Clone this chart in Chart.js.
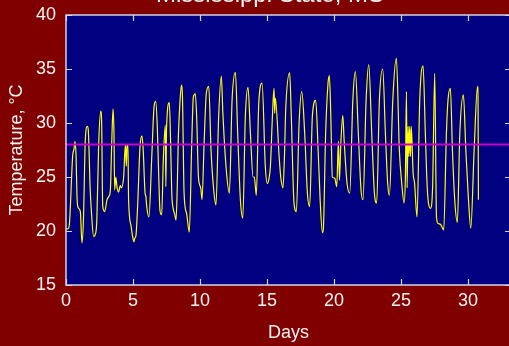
<!DOCTYPE html>
<html>
<head>
<meta charset="utf-8">
<script src="https://cdn.jsdelivr.net/npm/chart.js@4.4.1/dist/chart.umd.min.js"></script>
<style>
    html, body { margin: 0; padding: 0; background: #800000; overflow: hidden; }
    #wrap { width: 509px; height: 346px; overflow: hidden; position: relative; }
    canvas { position: absolute; left: 0; top: 0; }
</style>
</head>
<body>
<div id="wrap"><canvas id="tempChart" width="511" height="346"></canvas></div>
<script>
/* global Chart */

// Hourly-ish air temperature readings (days since start, deg C)
const days = [
    0.00, 0.15, 0.25, 0.50, 0.60, 0.67, 0.75, 0.82, 0.90, 1.07, 1.19, 1.30, 1.44, 1.59, 1.66, 1.80, 1.89,
    2.06, 2.19, 2.30, 2.44, 2.59, 2.66, 2.74, 2.89, 3.06, 3.20, 3.31, 3.42, 3.51, 3.58, 3.63, 3.72, 3.80,
    3.92, 4.05, 4.13, 4.30, 4.43, 4.50, 4.55, 4.62, 4.67, 4.85, 4.93, 5.07, 5.12, 5.22, 5.35, 5.52, 5.67,
    5.76, 5.90, 5.96, 6.02, 6.19, 6.39, 6.57, 6.69, 6.81, 6.92, 7.01, 7.14, 7.26, 7.41, 7.45, 7.50, 7.71,
    7.80, 7.89, 8.01, 8.10, 8.21, 8.30, 8.38, 8.51, 8.61, 8.68, 8.81, 9.00, 9.20, 9.38, 9.50, 9.65, 9.75,
    9.88, 10.05, 10.15, 10.30, 10.47, 10.65, 10.82, 11.02, 11.19, 11.39, 11.59, 11.70, 11.96, 12.19, 12.39,
    12.64, 12.81, 13.01, 13.19, 13.38, 13.58, 13.76, 13.96, 14.05, 14.20, 14.38, 14.63, 14.87, 15.02, 15.12,
    15.25, 15.40, 15.52, 15.57, 15.62, 15.90, 16.02, 16.19, 16.30, 16.39, 16.69, 16.80, 17.01, 17.19, 17.39,
    17.59, 17.81, 18.01, 18.18, 18.38, 18.63, 18.81, 18.96, 19.13, 19.20, 19.37, 19.55, 19.65, 19.75, 19.87,
    20.05, 20.20, 20.32, 20.40, 20.50, 20.65, 20.75, 20.97, 21.17, 21.40, 21.59, 21.81, 22.01, 22.16, 22.39,
    22.59, 22.81, 23.01, 23.18, 23.38, 23.63, 23.83, 24.00, 24.13, 24.38, 24.65, 24.87, 25.05, 25.22, 25.32,
    25.40, 25.45, 25.52, 25.58, 25.64, 25.70, 25.76, 25.90, 26.00, 26.19, 26.39, 26.64, 26.81, 26.96, 27.19,
    27.35, 27.51, 27.64, 27.76, 27.95, 28.18, 28.38, 28.50, 28.68, 28.83, 29.00, 29.20, 29.38, 29.65, 29.83,
    30.00, 30.20, 30.45, 30.70, 30.74, 30.77
];
const temps = [
    20.2, 20.2, 20.6, 27.0, 27.6, 28.3, 27.0, 23.2, 22.2, 21.8, 18.9, 21.0, 28.4, 29.7, 29.4, 24.0, 21.9,
    19.5, 19.7, 21.0, 28.1, 31.1, 30.0, 22.3, 21.8, 22.9, 23.2, 23.8, 28.5, 31.3, 29.0, 23.8, 25.0, 24.1,
    23.6, 24.2, 24.0, 25.0, 28.0, 26.0, 28.0, 28.0, 22.9, 20.5, 19.8, 19.0, 19.3, 19.6, 22.5, 27.8, 28.8,
    27.5, 23.5, 23.2, 22.3, 21.3, 26.6, 31.5, 32.0, 29.7, 25.0, 21.9, 21.5, 26.6, 29.8, 24.1, 29.5, 31.9,
    28.5, 23.5, 22.0, 21.6, 21.0, 24.0, 28.6, 32.1, 33.5, 32.8, 23.5, 21.6, 19.9, 28.1, 32.4, 32.7, 30.5,
    25.0, 24.0, 22.9, 28.0, 32.75, 33.4, 27.5, 23.8, 22.4, 30.6, 34.35, 31.0, 25.65, 23.5, 32.1,
    34.7, 29.0, 22.9, 21.2, 30.6, 33.3, 29.0, 25.0, 25.0, 23.3, 31.8, 33.7, 26.0, 24.4, 24.7,
    26.0, 30.6, 33.2, 30.9, 32.3, 26.9, 25.0, 24.0, 27.0, 31.2, 34.65, 31.0, 22.6, 21.8, 30.0,
    32.9, 29.0, 23.5, 22.25, 30.6, 32.1, 27.5, 22.9, 19.85, 20.2, 29.0, 33.7, 34.4, 31.0, 25.0,
    24.9, 24.1, 28.3, 24.7, 28.0, 30.7, 28.4, 24.4, 23.5, 32.1, 34.75, 29.0, 23.8, 22.9, 32.1,
    35.4, 29.0, 23.5, 22.6, 32.1, 35.0, 29.0, 24.4, 23.3, 32.1, 36.0, 27.5, 24.4, 22.6, 25.0,
    32.9, 24.0, 29.7, 26.9, 29.7, 26.9, 29.7, 25.3, 24.5, 21.3, 32.1, 35.3, 29.0, 23.8, 22.1,
    24.0, 34.6, 21.3, 20.7, 20.6, 20.1, 29.0, 32.1, 33.2, 27.5, 22.9, 20.8, 29.0, 32.6, 27.5,
    23.5, 20.25, 27.5, 33.4, 32.5, 22.9
];

const refLevel = 28;
const xTicks = [0, 5, 10, 15, 20, 25, 30];
const yTicks = [15, 20, 25, 30, 35, 40];

const xMin = 0;
const xMax = 33.2;
const yMin = 15;
const yMax = 40;

const textColor = '#f2f2f2';
const frameColor = '#d4d4e4';
const fontFamily = '"Liberation Sans", Arial, sans-serif';

// navy plot background, frame and inward ticks on all four sides
const frame = {
    id: 'frame',
    beforeDatasetsDraw(chart) {
        const { ctx, chartArea: a } = chart;
        ctx.save();
        ctx.fillStyle = '#000080';
        ctx.fillRect(a.left, a.top, a.right - a.left, a.bottom - a.top);
        ctx.restore();
    },
    afterDraw(chart) {
        const { ctx, chartArea: a, scales } = chart;
        ctx.save();
        ctx.strokeStyle = frameColor;
        ctx.lineWidth = 1.5;
        ctx.strokeRect(a.left, a.top, a.right - a.left, a.bottom - a.top);
        ctx.lineWidth = 1.2;
        ctx.beginPath();
        xTicks.forEach(v => {
            const x = Math.round(scales.x.getPixelForValue(v)) + 0.5;
            ctx.moveTo(x, a.bottom);
            ctx.lineTo(x, a.bottom - 6);
            ctx.moveTo(x, a.top);
            ctx.lineTo(x, a.top + 6);
        });
        yTicks.forEach(v => {
            const y = Math.round(scales.y.getPixelForValue(v)) + 0.5;
            ctx.moveTo(a.left, y);
            ctx.lineTo(a.left + 6, y);
            ctx.moveTo(a.right, y);
            ctx.lineTo(a.right - 6, y);
        });
        ctx.stroke();

        // title sits mostly above the top edge of the picture
        ctx.fillStyle = textColor;
        ctx.font = '24px ' + fontFamily;
        ctx.textAlign = 'center';
        ctx.textBaseline = 'alphabetic';
        ctx.fillText('Mississippi State, MS', 270, 2);
        ctx.restore();
    }
};

window.addEventListener('load', () => {
    const ctx = document.getElementById('tempChart').getContext('2d');

    new Chart(ctx, {
        type: 'line',
        data: {
            datasets: [
                {
                    label: 'Temperature',
                    data: days.map((d, i) => ({ x: d, y: temps[i] })),
                    borderColor: '#ffff00',
                    borderWidth: 1.2,
                    pointRadius: 0,
                    cubicInterpolationMode: 'monotone',
                    order: 2,
                },
                {
                    label: 'Reference',
                    data: [{ x: xMin, y: refLevel }, { x: xMax, y: refLevel }],
                    borderColor: '#c800c8',
                    borderWidth: 2,
                    pointRadius: 0,
                    order: 1,
                }
            ]
        },
        options: {
            responsive: false,
            devicePixelRatio: 1,
            animation: false,
            layout: {
                padding: { top: 15, right: 0, left: 0, bottom: 0 }
            },
            scales: {
                x: {
                    type: 'linear',
                    min: xMin,
                    max: xMax,
                    afterFit: (scale) => {
                        scale.height = 61;
                        scale.paddingLeft = 0;
                        scale.paddingRight = 0;
                    },
                    grid: { display: false, drawTicks: false },
                    border: { display: false },
                    ticks: {
                        stepSize: 5,
                        includeBounds: false,
                        maxRotation: 0,
                        padding: 5,
                        color: textColor,
                        font: { size: 18, family: fontFamily },
                    },
                    title: {
                        display: true,
                        text: 'Days',
                        color: textColor,
                        padding: { top: 0, bottom: 2 },
                        font: { size: 18, family: fontFamily },
                    }
                },
                y: {
                    min: yMin,
                    max: yMax,
                    afterFit: (scale) => {
                        scale.width = 66;
                        scale.paddingTop = 0;
                        scale.paddingBottom = 0;
                    },
                    grid: { display: false, drawTicks: false },
                    border: { display: false },
                    ticks: {
                        stepSize: 5,
                        padding: 10,
                        color: textColor,
                        font: { size: 18, family: fontFamily },
                    },
                    title: {
                        display: true,
                        text: 'Temperature, °C',
                        color: textColor,
                        padding: { top: 6, bottom: 0 },
                        font: { size: 18, family: fontFamily },
                    }
                }
            },
            plugins: {
                legend: { display: false },
                tooltip: { enabled: false },
            }
        },
        plugins: [frame]
    });
});
</script>
</body>
</html>
